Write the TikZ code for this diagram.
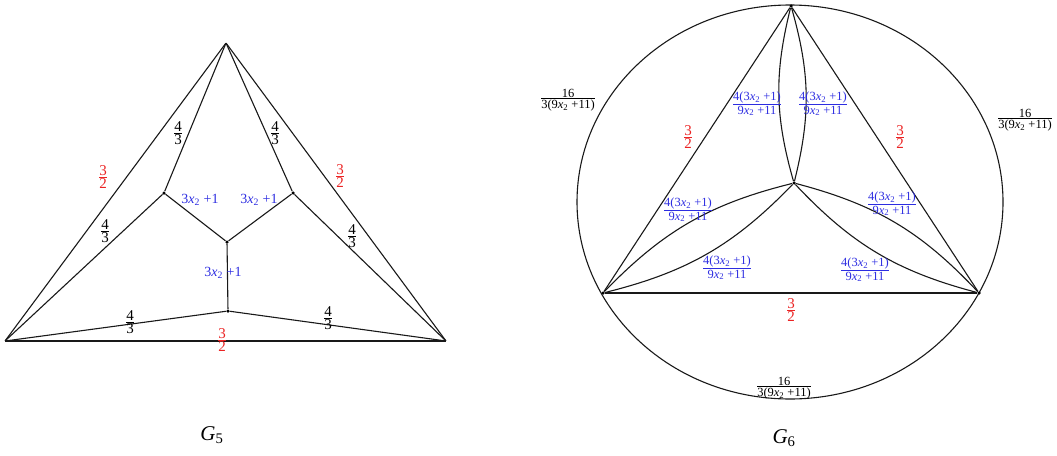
\documentclass[tikz,border=0pt]{standalone}
\usepackage{fontspec}
\setmainfont{Liberation Serif}
\definecolor{lblue}{RGB}{45,45,225}
\definecolor{lred}{RGB}{235,35,35}
\newcommand{\fr}[2]{$\textstyle{\mbox{#1}\above0.8pt\mbox{#2}}$}
\newcommand{\xt}{\textit{x}\textsubscript{2}}
\begin{document}
\begin{tikzpicture}[x=1pt,y=-1pt,
  edge/.style={line width=1.1pt, draw=black!90},
  vtx/.style={circle,fill=black,inner sep=0pt,minimum size=3.5pt},
  pt/.style={circle,inner sep=0pt,minimum size=0pt},
  lab/.style={font=\fontsize{15}{16}\selectfont, inner sep=0pt},
  bt/.style={font=\fontsize{14}{15}\selectfont, inner sep=0pt},
  sm/.style={font=\fontsize{12.5}{13.5}\selectfont, inner sep=0pt},
  bl/.style={bt,text=lblue},
  bls/.style={sm,text=lblue},
  rd/.style={lab,text=lred},
  ttl/.style={font=\fontsize{21}{23}\selectfont\itshape, inner sep=0pt}]
\useasboundingbox (0,0) rectangle (1057,455);
% ---------- G5 ----------
\node[pt] (A) at (226,43) {};
\node[pt] (B) at (5,341) {};
\node[pt] (C) at (446,341) {};
\node[vtx] (P1) at (164,193) {};
\node[vtx] (P2) at (293,193) {};
\node[vtx] (Q) at (227,242) {};
\node[vtx] (R) at (228,311) {};
\draw[edge] (A) -- (B);
\draw[edge] (A) -- (C);
\draw[edge] (B) -- (C);
\draw[edge] (A) -- (P1);
\draw[edge] (A) -- (P2);
\draw[edge] (B) -- (P1);
\draw[edge] (C) -- (P2);
\draw[edge] (P1) -- (Q);
\draw[edge] (P2) -- (Q);
\draw[edge] (Q) -- (R);
\draw[edge] (B) -- (R);
\draw[edge] (C) -- (R);
\node[lab] (g5a) at (178,133) {\fr{4}{3}};
\node[lab] (g5b) at (275,133) {\fr{4}{3}};
\node[rd] (g5c) at (103,177) {\fr{3}{2}};
\node[rd] (g5d) at (340,176) {\fr{3}{2}};
\node[lab] (g5e) at (105,231) {\fr{4}{3}};
\node[lab] (g5f) at (352,236) {\fr{4}{3}};
\node[bl] (g5g) at (200,200) {3\xt{} +1};
\node[bl] (g5h) at (259,200) {3\xt{} +1};
\node[bl] (g5i) at (223,273) {3\xt{} +1};
\node[lab] (g5j) at (130,322) {\fr{4}{3}};
\node[lab] (g5k) at (328,318) {\fr{4}{3}};
\node[rd] (g5l) at (222,340) {\fr{3}{2}};
\node[ttl] (G5) at (212,435) {G\textsubscript{\upshape 5}};
% ---------- G6 ----------
\coordinate (E) at (790,202);
\draw[edge] (E) ellipse [x radius=213pt, y radius=197pt];
\node[vtx] (T) at (791,6) {};
\node[vtx] (L) at (603,293) {};
\node[vtx] (Rv) at (979,293) {};
\node[vtx] (M) at (794,183) {};
\draw[edge] (T) -- (L);
\draw[edge] (T) -- (Rv);
\draw[edge] (L) -- (Rv);
\draw[edge] (T) to[bend right=15] (M);
\draw[edge] (T) to[bend left=15] (M);
\draw[edge] (L) to[bend left=16] (M);
\draw[edge] (L) to[bend right=16] (M);
\draw[edge] (Rv) to[bend left=16] (M);
\draw[edge] (Rv) to[bend right=16] (M);
\node[sm] (g6a) at (568,100) {\fr{16}{3(9\xt{} +11)}};
\node[sm] (g6b) at (1025,120) {\fr{16}{3(9\xt{} +11)}};
\node[sm] (g6c) at (784,388) {\fr{16}{3(9\xt{} +11)}};
\node[rd] (g6d) at (688,137) {\fr{3}{2}};
\node[rd] (g6e) at (900,137) {\fr{3}{2}};
\node[rd] (g6f) at (791,310) {\fr{3}{2}};
\node[bls] (g6g) at (757,104) {\fr{4(3\xt{} +1)}{9\xt{} +11}};
\node[bls] (g6h) at (823,104) {\fr{4(3\xt{} +1)}{9\xt{} +11}};
\node[bls] (g6i) at (688,210) {\fr{4(3\xt{} +1)}{9\xt{} +11}};
\node[bls] (g6j) at (892,204) {\fr{4(3\xt{} +1)}{9\xt{} +11}};
\node[bls] (g6k) at (727,268) {\fr{4(3\xt{} +1)}{9\xt{} +11}};
\node[bls] (g6l) at (865,270) {\fr{4(3\xt{} +1)}{9\xt{} +11}};
\node[ttl] (G6) at (784,438) {G\textsubscript{\upshape 6}};
\end{tikzpicture}
\end{document}
